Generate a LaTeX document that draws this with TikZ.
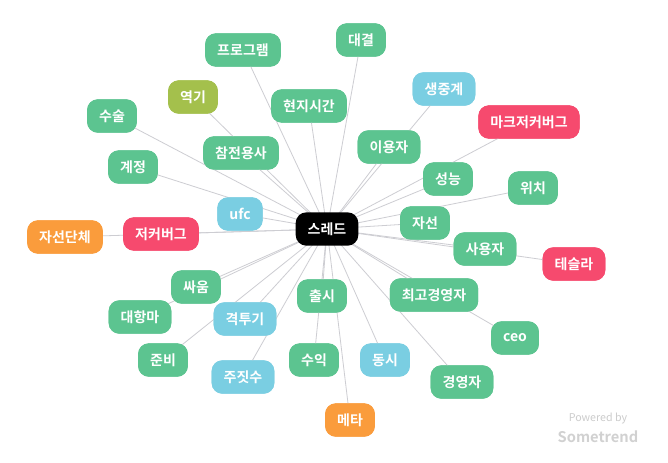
\documentclass[tikz,border=0pt]{standalone}
\usepackage{fontspec}
\newfontfamily\kr{Noto Sans CJK KR}[BoldFont={Noto Sans CJK KR Bold}]
\definecolor{cg}{RGB}{92,196,144}
\definecolor{cb}{RGB}{122,206,226}
\definecolor{cr}{RGB}{246,74,110}
\definecolor{co}{RGB}{250,156,60}
\definecolor{cv}{RGB}{164,192,76}
\definecolor{ed}{RGB}{205,205,210}
\tikzset{kw/.style={rounded corners=8pt,minimum height=25pt,inner xsep=9pt,text=white,font=\kr\bfseries\fontsize{10.5}{12}\selectfont},
g/.style={kw,fill=cg},b/.style={kw,fill=cb},r/.style={kw,fill=cr},o/.style={kw,fill=co},v/.style={kw,fill=cv},
ln/.style={draw=ed,line width=0.6pt}}
\begin{document}
\begin{tikzpicture}[x=0.75pt,y=-0.75pt]
\useasboundingbox (0,0) rectangle (668,462);
\fill[white] (0,0) rectangle (668,462);
\coordinate (c) at (327,229);
\foreach \n/\x/\y in {a/243/50,b1/361/40,c1/193/97,d/309/106,e/444/89,f/529,g1/112/116}{}
\node[g] (n1) at (243,50) {프로그램};
\node[g] (n2) at (361,40) {대결};
\node[v] (n3) at (193,97) {역기};
\node[g] (n4) at (309,106) {현지시간};
\node[b] (n5) at (444,89) {생중계};
\node[r] (n6) at (529,122) {마크저커버그};
\node[g] (n7) at (112,116) {수술};
\node[g] (n8) at (241,153) {참전용사};
\node[g] (n9) at (389,147) {이용자};
\node[g] (n10) at (133,167) {계정};
\node[g] (n11) at (448,179) {성능};
\node[g] (n12) at (533,188) {위치};
\node[b] (n13) at (240,214) {ufc};
\node[o] (n14) at (65,237) {자선단체};
\node[r] (n15) at (161,234) {저커버그};
\node[g] (n16) at (425,223) {자선};
\node[g] (n17) at (485,249) {사용자};
\node[r] (n18) at (574,264) {테슬라};
\node[g] (n19) at (196,287) {싸움};
\node[g] (n20) at (322,296) {출시};
\node[g] (n21) at (434,295) {최고경영자};
\node[g] (n22) at (140,317) {대항마};
\node[b] (n23) at (245,319) {격투기};
\node[g] (n24) at (515,338) {ceo};
\node[g] (n25) at (163,360) {준비};
\node[g] (n26) at (314,360) {수익};
\node[b] (n27) at (385,360) {동시};
\node[b] (n28) at (243,377) {주짓수};
\node[g] (n29) at (462,382) {경영자};
\node[o] (n30) at (350,420) {메타};
\begin{scope}[on background layer/.style={}]
\end{scope}
\foreach \i in {1,...,30}{\draw[ln] (c) -- (n\i.center);}
\foreach \i in {1,...,30}{\path (n\i) node[] {};}
\node[g] at (243,50) {프로그램};
\node[g] at (361,40) {대결};
\node[v] at (193,97) {역기};
\node[g] at (309,106) {현지시간};
\node[b] at (444,89) {생중계};
\node[r] at (529,122) {마크저커버그};
\node[g] at (112,116) {수술};
\node[g] at (241,153) {참전용사};
\node[g] at (389,147) {이용자};
\node[g] at (133,167) {계정};
\node[g] at (448,179) {성능};
\node[g] at (533,188) {위치};
\node[b] at (240,214) {ufc};
\node[o] at (65,237) {자선단체};
\node[r] at (161,234) {저커버그};
\node[g] at (425,223) {자선};
\node[g] at (485,249) {사용자};
\node[r] at (574,264) {테슬라};
\node[g] at (196,287) {싸움};
\node[g] at (322,296) {출시};
\node[g] at (434,295) {최고경영자};
\node[g] at (140,317) {대항마};
\node[b] at (245,319) {격투기};
\node[g] at (515,338) {ceo};
\node[g] at (163,360) {준비};
\node[g] at (314,360) {수익};
\node[b] at (385,360) {동시};
\node[b] at (243,377) {주짓수};
\node[g] at (462,382) {경영자};
\node[o] at (350,420) {메타};
\node[kw,fill=black] (center) at (c) {스레드};
\node[font=\kr\fontsize{8}{9}\selectfont,text=black!20] (pw) at (598,418) {Powered by};
\node[font=\kr\bfseries\fontsize{11}{12}\selectfont,text=black!18] (st) at (598,437) {Sometrend};
\end{tikzpicture}
\end{document}
